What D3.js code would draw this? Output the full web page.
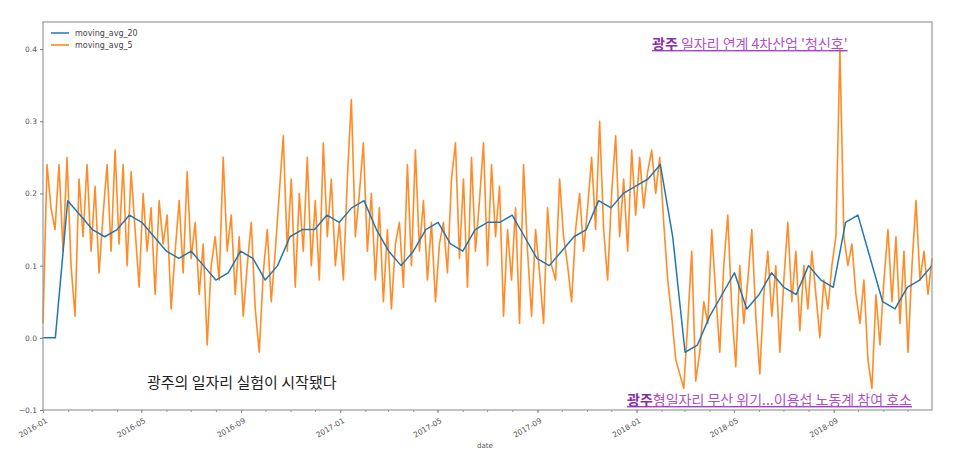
<!DOCTYPE html>
<html>
<head>
<meta charset="utf-8">
<script src="https://cdn.jsdelivr.net/npm/d3@7"></script>
<style>
  body { margin: 0; background: #fff; }
  text { font-family: "DejaVu Sans", sans-serif; }
  .kr { font-family: "Noto Sans CJK KR", sans-serif; }
</style>
</head>
<body>
<div id="container"></div>
<script>
/* CONSTANTS AND GLOBALS */
const width = 959;
const height = 451;
const margin = { top: 22, right: 27, bottom: 41, left: 43 };

/* DATA */
const startDate = "2016-01-01";
const endDate = "2018-12-31";
const tickLabels = ["2016-01", "2016-05", "2016-09", "2017-01", "2017-05", "2017-09", "2018-01", "2018-05", "2018-09"];
const yTicks = [-0.1, 0.0, 0.1, 0.2, 0.3, 0.4];

// moving_avg_5, evenly spaced in time
const avg5 = [
  0.02, 0.24, 0.18, 0.15, 0.24, 0.12, 0.25, 0.10, 0.03, 0.22, 0.14, 0.24, 0.12, 0.21, 0.09, 0.17, 0.24, 0.12, 0.26, 0.13,
  0.24, 0.10, 0.23, 0.15, 0.07, 0.20, 0.12, 0.18, 0.06, 0.19, 0.13, 0.17, 0.04, 0.12, 0.19, 0.09, 0.23, 0.11, 0.16, 0.06,
  0.13, -0.01, 0.10, 0.14, 0.08, 0.25, 0.12, 0.17, 0.06, 0.14, 0.03, 0.10, 0.16, 0.04, -0.02, 0.09, 0.15, 0.05, 0.12, 0.20,
  0.28, 0.12, 0.22, 0.07, 0.20, 0.12, 0.25, 0.10, 0.19, 0.08, 0.27, 0.14, 0.22, 0.10, 0.16, 0.08, 0.22, 0.33, 0.14, 0.20,
  0.27, 0.12, 0.20, 0.08, 0.18, 0.05, 0.15, 0.04, 0.13, 0.16, 0.07, 0.24, 0.10, 0.26, 0.12, 0.19, 0.08, 0.16, 0.05, 0.13,
  0.16, 0.09, 0.22, 0.27, 0.11, 0.22, 0.07, 0.25, 0.12, 0.19, 0.27, 0.10, 0.24, 0.14, 0.21, 0.03, 0.15, 0.08, 0.18, 0.02,
  0.24, 0.12, 0.03, 0.15, 0.09, 0.02, 0.18, 0.10, 0.08, 0.22, 0.14, 0.10, 0.05, 0.15, 0.20, 0.12, 0.18, 0.25, 0.15, 0.30,
  0.15, 0.08, 0.20, 0.28, 0.14, 0.22, 0.12, 0.26, 0.17, 0.25, 0.18, 0.23, 0.26, 0.20, 0.25, 0.16, 0.08, 0.03, -0.03, -0.05,
  -0.07, 0.02, 0.12, -0.06, -0.02, 0.05, 0.02, 0.15, 0.06, -0.02, 0.10, 0.17, 0.04, -0.04, 0.10, 0.02, 0.08, 0.15, 0.03, -0.05,
  0.06, 0.12, 0.03, 0.10, -0.02, 0.08, 0.16, 0.05, 0.12, 0.01, 0.10, 0.04, 0.12, 0.06, 0.00, 0.08, 0.04, 0.10, 0.14, 0.40,
  0.14, 0.10, 0.13, 0.06, 0.02, 0.08, -0.03, -0.07, 0.06, -0.01, 0.08, 0.15, 0.05, 0.14, 0.02, 0.12, -0.02, 0.10, 0.19, 0.08,
  0.12, 0.06, 0.11
];

// moving_avg_20, evenly spaced in time
const avg20 = [
  0.00, 0.00, 0.19, 0.17, 0.15, 0.14, 0.15, 0.17, 0.16, 0.14,
  0.12, 0.11, 0.12, 0.10, 0.08, 0.09, 0.12, 0.11, 0.08, 0.10,
  0.14, 0.15, 0.15, 0.17, 0.16, 0.18, 0.19, 0.15, 0.12, 0.10,
  0.12, 0.15, 0.16, 0.13, 0.12, 0.15, 0.16, 0.16, 0.17, 0.14,
  0.11, 0.10, 0.12, 0.14, 0.15, 0.19, 0.18, 0.20, 0.21, 0.22,
  0.24, 0.14, -0.02, -0.01, 0.03, 0.06, 0.09, 0.04, 0.06, 0.09,
  0.07, 0.06, 0.10, 0.08, 0.07, 0.16, 0.17, 0.11, 0.05, 0.04,
  0.07, 0.08, 0.10
];

const parse = d3.timeParse("%Y-%m-%d");
const parseMonth = d3.timeParse("%Y-%m");
const t0 = parse(startDate), t1 = parse(endDate);

function spread(values) {
  const idx = d3.scaleLinear().domain([0, values.length - 1]).range([t0, t1]);
  return values.map((v, i) => ({ date: new Date(idx(i)), value: v }));
}
const series = [
  { name: "moving_avg_20", color: "#1f77b4", data: spread(avg20) },
  { name: "moving_avg_5", color: "#ff7f0e", data: spread(avg5) }
];

/* SCALES */
const xScale = d3.scaleTime()
  .domain([t0, t1])
  .range([margin.left, width - margin.right]);

const yScale = d3.scaleLinear()
  .domain([-0.1, 0.4375])
  .range([height - margin.bottom, margin.top]);

/* HTML ELEMENTS */
const svg = d3.select("#container")
  .append("svg")
  .attr("width", width)
  .attr("height", height);

const line = d3.line()
  .x(d => xScale(d.date))
  .y(d => yScale(d.value));

// orange drawn first, blue over it
svg.append("path")
  .datum(series[1].data)
  .attr("fill", "none")
  .attr("stroke", series[1].color)
  .attr("stroke-opacity", 0.9)
  .attr("stroke-width", 1.6)
  .attr("stroke-linejoin", "round")
  .attr("d", line);

svg.append("path")
  .datum(series[0].data)
  .attr("fill", "none")
  .attr("stroke", series[0].color)
  .attr("stroke-width", 1.5)
  .attr("stroke-linejoin", "round")
  .attr("d", line);

// frame
svg.append("rect")
  .attr("x", margin.left)
  .attr("y", margin.top)
  .attr("width", width - margin.left - margin.right)
  .attr("height", height - margin.top - margin.bottom)
  .attr("fill", "none")
  .attr("stroke", "#999")
  .attr("stroke-width", 1.2);

// axes
const xAxis = svg.append("g")
  .attr("transform", `translate(0,${height - margin.bottom})`)
  .call(d3.axisBottom(xScale)
    .tickValues(tickLabels.map(parseMonth))
    .tickFormat(d3.timeFormat("%Y-%m"))
    .tickSize(3));
xAxis.select(".domain").remove();
xAxis.selectAll("line").attr("stroke", "#777");
xAxis.selectAll("text")
  .attr("fill", "#555")
  .style("font-size", "7.5px")
  .attr("text-anchor", "end")
  .attr("transform", "rotate(-30)")
  .attr("dx", "-0.3em")
  .attr("dy", "0.9em");

// minor ticks
svg.append("g")
  .attr("transform", `translate(0,${height - margin.bottom})`)
  .call(d3.axisBottom(xScale).ticks(d3.timeMonth.every(1)).tickFormat("").tickSize(2))
  .call(g => g.select(".domain").remove())
  .selectAll("line").attr("stroke", "#999");

const yAxis = svg.append("g")
  .attr("transform", `translate(${margin.left},0)`)
  .call(d3.axisLeft(yScale)
    .tickValues(yTicks)
    .tickFormat(d3.format(".1f"))
    .tickSize(3));
yAxis.select(".domain").remove();
yAxis.selectAll("line").attr("stroke", "#777");
yAxis.selectAll("text")
  .attr("fill", "#555")
  .style("font-size", "7.5px");

// x axis title
svg.append("text")
  .attr("x", 485)
  .attr("y", height - 3)
  .attr("text-anchor", "middle")
  .attr("fill", "#555")
  .style("font-size", "7px")
  .text("date");

// legend
const legend = svg.append("g").attr("transform", `translate(${margin.left + 8},${margin.top + 11})`);
series.forEach((s, i) => {
  legend.append("line")
    .attr("x1", 0).attr("x2", 18)
    .attr("y1", i * 12).attr("y2", i * 12)
    .attr("stroke", s.color)
    .attr("stroke-width", 1.5);
  legend.append("text")
    .attr("x", 24)
    .attr("y", i * 12 + 3)
    .attr("fill", "#444")
    .style("font-size", "8px")
    .text(s.name);
});

// annotations
function headline(x, y, bold, rest) {
  const t = svg.append("text")
    .attr("class", "kr")
    .attr("x", x)
    .attr("y", y)
    .attr("fill", "#a040c0")
    .style("font-size", "14px")
    .style("text-decoration", "underline");
  t.append("tspan").attr("fill", "#8a2ca8").style("font-weight", "bold").text(bold);
  t.append("tspan").attr("fill", "#b050c8").text(rest);
}
headline(652, 49, "광주", " 일자리 연계 4차산업 '청신호'");
headline(627, 405, "광주", "형일자리 무산 위기...이용섭 노동계 참여 호소");

svg.append("text")
  .attr("class", "kr")
  .attr("x", 147)
  .attr("y", 388)
  .attr("fill", "#222")
  .style("font-size", "15px")
  .text("광주의 일자리 실험이 시작됐다");
</script>
</body>
</html>
